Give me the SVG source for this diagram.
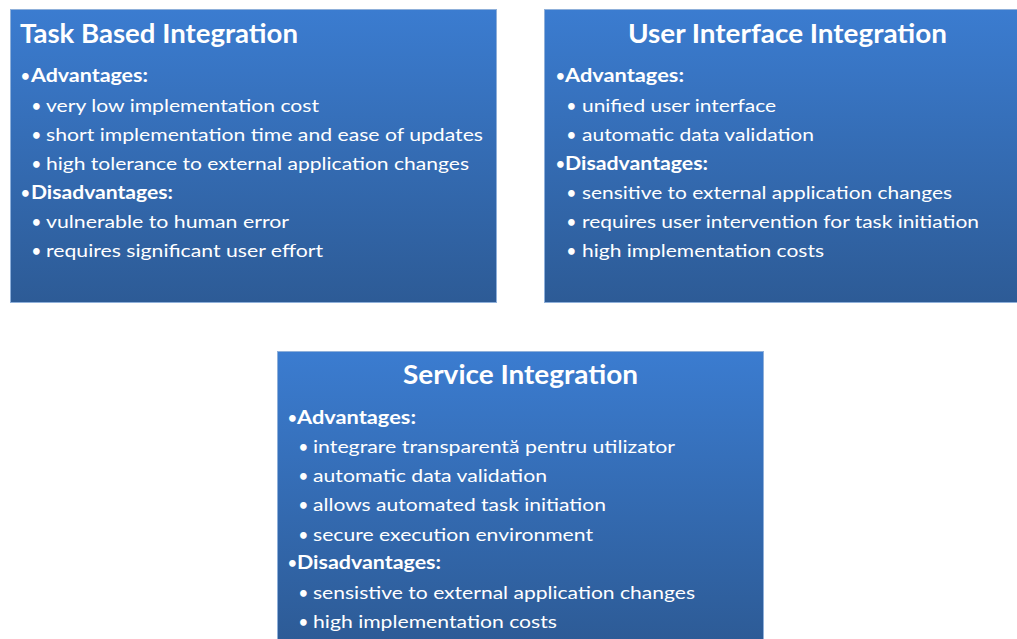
<svg xmlns="http://www.w3.org/2000/svg" width="1017" height="639" viewBox="0 0 1017 639">
<defs>
<linearGradient id="g" x1="0" y1="0" x2="0" y2="1">
<stop offset="0" stop-color="#3B7CD0"/>
<stop offset="1" stop-color="#2D5B96"/>
</linearGradient>
<style>
.box{fill:url(#g);stroke:#8FB0DA;stroke-width:1}
text{fill:#FFFFFF;font-family:Lato,"Liberation Sans",sans-serif}
.t{font-size:26px;font-weight:bold}
.h{font-size:19.5px;font-weight:bold}
.hb{font-size:15px;font-weight:bold}
.i{font-size:18px}
.b{font-size:15px;font-weight:bold}
</style>
</defs>
<rect width="1017" height="639" fill="#FFFFFF"/>
<g id="task-based">
<rect class="box" x="10.5" y="9.5" width="486" height="293"/>
<text class="t" x="20" y="43" textLength="278" lengthAdjust="spacingAndGlyphs">Task Based Integration</text>
<text class="hb" x="21" y="81">•</text><text class="h" x="31" y="82" textLength="117" lengthAdjust="spacingAndGlyphs">Advantages:</text>
<text class="b" x="32" y="111">•</text><text class="i" x="46" y="112" textLength="273" lengthAdjust="spacingAndGlyphs">very low implementation cost</text>
<text class="b" x="32" y="140">•</text><text class="i" x="46" y="141" textLength="437" lengthAdjust="spacingAndGlyphs">short implementation time and ease of updates</text>
<text class="b" x="32" y="169">•</text><text class="i" x="46" y="170" textLength="423" lengthAdjust="spacingAndGlyphs">high tolerance to external application changes</text>
<text class="hb" x="21" y="198">•</text><text class="h" x="31" y="199" textLength="142" lengthAdjust="spacingAndGlyphs">Disadvantages:</text>
<text class="b" x="32" y="227">•</text><text class="i" x="46" y="228" textLength="243" lengthAdjust="spacingAndGlyphs">vulnerable to human error</text>
<text class="b" x="32" y="256">•</text><text class="i" x="46" y="257" textLength="277" lengthAdjust="spacingAndGlyphs">requires significant user effort</text>
</g>
<g id="user-interface">
<rect class="box" x="544.5" y="9.5" width="473" height="293"/>
<text class="t" x="628" y="43" textLength="319" lengthAdjust="spacingAndGlyphs">User Interface Integration</text>
<text class="hb" x="556" y="81">•</text><text class="h" x="565" y="82" textLength="119" lengthAdjust="spacingAndGlyphs">Advantages:</text>
<text class="b" x="567" y="111">•</text><text class="i" x="582" y="112" textLength="194" lengthAdjust="spacingAndGlyphs">unified user interface</text>
<text class="b" x="567" y="140">•</text><text class="i" x="582" y="141" textLength="232" lengthAdjust="spacingAndGlyphs">automatic data validation</text>
<text class="hb" x="556" y="169">•</text><text class="h" x="565" y="170" textLength="143" lengthAdjust="spacingAndGlyphs">Disadvantages:</text>
<text class="b" x="567" y="198">•</text><text class="i" x="582" y="199" textLength="370" lengthAdjust="spacingAndGlyphs">sensitive to external application changes</text>
<text class="b" x="567" y="227">•</text><text class="i" x="582" y="228" textLength="397" lengthAdjust="spacingAndGlyphs">requires user intervention for task initiation</text>
<text class="b" x="567" y="256">•</text><text class="i" x="582" y="257" textLength="242" lengthAdjust="spacingAndGlyphs">high implementation costs</text>
</g>
<g id="service">
<rect class="box" x="277.5" y="351.5" width="486" height="290"/>
<text class="t" x="403" y="384" textLength="235" lengthAdjust="spacingAndGlyphs">Service Integration</text>
<text class="hb" x="288" y="423">•</text><text class="h" x="297" y="424" textLength="119" lengthAdjust="spacingAndGlyphs">Advantages:</text>
<text class="b" x="299" y="452">•</text><text class="i" x="313" y="453" textLength="362" lengthAdjust="spacingAndGlyphs">integrare transparentă pentru utilizator</text>
<text class="b" x="299" y="481">•</text><text class="i" x="313" y="482" textLength="234" lengthAdjust="spacingAndGlyphs">automatic data validation</text>
<text class="b" x="299" y="510">•</text><text class="i" x="313" y="511" textLength="293" lengthAdjust="spacingAndGlyphs">allows automated task initiation</text>
<text class="b" x="299" y="540">•</text><text class="i" x="313" y="541" textLength="280" lengthAdjust="spacingAndGlyphs">secure execution environment</text>
<text class="hb" x="288" y="568">•</text><text class="h" x="297" y="569" textLength="144" lengthAdjust="spacingAndGlyphs">Disadvantages:</text>
<text class="b" x="299" y="598">•</text><text class="i" x="313" y="599" textLength="382" lengthAdjust="spacingAndGlyphs">sensistive to external application changes</text>
<text class="b" x="299" y="627">•</text><text class="i" x="313" y="628" textLength="244" lengthAdjust="spacingAndGlyphs">high implementation costs</text>
</g>
<g id="connectors"></g>
</svg>
